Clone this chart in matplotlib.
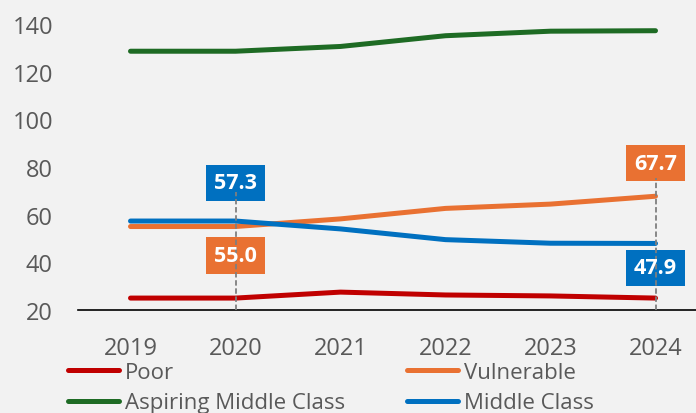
import matplotlib
matplotlib.use("Agg")
import matplotlib.pyplot as plt

# данные
years = [2019, 2020, 2021, 2022, 2023, 2024]
poor = [25.0, 25.0, 27.5, 26.3, 25.9, 25.0]
vulnerable = [55.0, 55.0, 58.2, 62.6, 64.4, 67.7]
aspiring = [128.5, 128.5, 130.5, 135.0, 136.9, 137.1]
middle = [57.3, 57.3, 54.0, 49.5, 48.0, 47.9]
yticks = [20, 40, 60, 80, 100, 120, 140]

BG = "#F2F2F2"
C_POOR, C_VULN, C_ASP, C_MID = "#C00000", "#E97132", "#1E6B24", "#0070C0"
GREY_TXT = "#595959"

plt.rcParams["font.family"] = ["Open Sans", "DejaVu Sans"]

fig = plt.figure(figsize=(6.96, 4.14), dpi=100, facecolor=BG)
ax = fig.add_axes([78 / 696, 1 - 311 / 414, 630 / 696, (311 - 24.8) / 414])
ax.set_facecolor(BG)

series = [("Poor", poor, C_POOR), ("Aspiring Middle Class", aspiring, C_ASP),
          ("Vulnerable", vulnerable, C_VULN), ("Middle Class", middle, C_MID)]
handles = []
for name, vals, col in series:
    h, = ax.plot(years, vals, color=col, lw=3.6, solid_capstyle="round",
                 solid_joinstyle="round", label=name, zorder=2)
    handles.append(h)

ax.set_xlim(2018.5, 2024.5)
ax.set_ylim(20, 140)
ax.set_yticks(yticks)
ax.set_xticks(years)
ax.tick_params(axis="both", length=0, labelsize=17, colors=GREY_TXT)
ax.tick_params(axis="y", pad=18)
ax.tick_params(axis="x", pad=18.5)
for s in ("top", "right", "left"):
    ax.spines[s].set_visible(False)
ax.spines["bottom"].set_color("black")
ax.spines["bottom"].set_linewidth(1.2)


def label(x, y, text, color, dy):
    kw = dict(xy=(x, y), xytext=(0, dy), textcoords="offset points",
              ha="center", va="center", fontsize=15.5, fontweight="bold")
    ax.annotate(text, color=color, zorder=3,
                bbox=dict(boxstyle="square,pad=0.36", fc=color, ec="none"), **kw)
    ax.annotate(text, color="white", zorder=5, **kw)


# подписи для 2020 и 2024
i20, i24 = years.index(2020), years.index(2024)
label(2020, middle[i20], f"{middle[i20]:.1f}", C_MID, 27.4)
label(2020, vulnerable[i20], f"{vulnerable[i20]:.1f}", C_VULN, -21)
label(2024, vulnerable[i24], f"{vulnerable[i24]:.1f}", C_VULN, 23.8)
label(2024, middle[i24], f"{middle[i24]:.1f}", C_MID, -17.6)

ax.plot([2020, 2020], [20, 69.5], ls=(0, (3, 1.5)), color="#7F7F7F", lw=1.3, zorder=4)
ax.plot([2024, 2024], [20, 75.5], ls=(0, (3, 1.5)), color="#7F7F7F", lw=1.3, zorder=4)

leg = fig.legend(handles=handles, loc="upper left", ncol=2, frameon=False,
                 bbox_to_anchor=(68 / 696, 1 - 363 / 414), fontsize=16,
                 handlelength=2.3, handletextpad=0.28, labelspacing=0.42,
                 columnspacing=2.75, borderpad=0, borderaxespad=0)
for t in leg.get_texts():
    t.set_color(GREY_TXT)
for h in leg.legend_handles:
    h.set_linewidth(3.6)
    h.set_solid_capstyle("round")

fig.savefig("out.png", dpi=100, facecolor=BG)
